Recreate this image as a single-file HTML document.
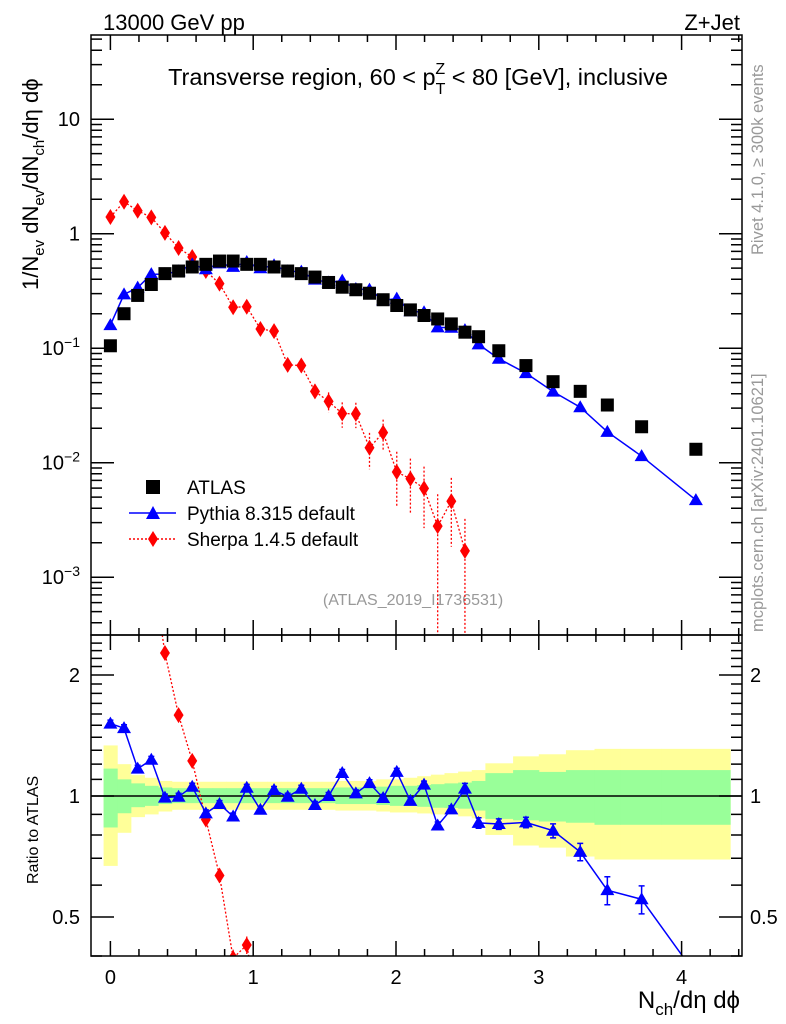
<!DOCTYPE html>
<html><head><meta charset="utf-8">
<style>
html,body{margin:0;padding:0;background:#fff;overflow:hidden;width:786px;height:1024px;}
svg{display:block;font-family:"Liberation Sans",sans-serif;}
</style></head>
<body>
<svg id="chart" width="786" height="1024" viewBox="0 0 786 1024" xmlns="http://www.w3.org/2000/svg">
<text x="103" y="30" font-size="22">13000 GeV pp</text>
<text x="740" y="30" font-size="22" text-anchor="end">Z+Jet</text>
<text x="418" y="85" font-size="23.5" text-anchor="middle">Transverse region, 60 &lt; p<tspan font-size="16" dy="9">T</tspan><tspan font-size="16" dx="-10" dy="-20">Z</tspan><tspan dy="11"> &lt; 80 [GeV], inclusive</tspan></text>
<text transform="translate(38,290) rotate(-90)" font-size="22">1/N<tspan font-size="15" dy="6">ev</tspan><tspan dy="-6"> dN</tspan><tspan font-size="15" dy="6">ev</tspan><tspan dy="-6">/dN</tspan><tspan font-size="15" dy="6">ch</tspan><tspan dy="-6">/dη dϕ</tspan></text>
<text transform="translate(38,884) rotate(-90)" font-size="16">Ratio to ATLAS</text>
<text x="740" y="1008" font-size="24" text-anchor="end">N<tspan font-size="17" dy="7">ch</tspan><tspan dy="-7">/dη dϕ</tspan></text>
<text transform="translate(763,255) rotate(-90)" font-size="16.5" fill="#999">Rivet 4.1.0, ≥ 300k events</text>
<text transform="translate(763,632) rotate(-90)" font-size="16.5" fill="#999">mcplots.cern.ch [arXiv:2401.10621]</text>
<text x="413" y="605" font-size="16" fill="#999" text-anchor="middle">(ATLAS_2019_I1736531)</text>
<g>
<rect x="146" y="480" width="14" height="14" fill="#000"/>
<text x="187" y="494" font-size="19">ATLAS</text>
<line x1="129" y1="513" x2="176" y2="513" stroke="#00f" stroke-width="1.5"/>
<path d="M146,519 L160,519 L153,506 Z" fill="#00f"/>
<text x="187" y="520" font-size="19">Pythia 8.315 default</text>
<line x1="129" y1="539" x2="176" y2="539" stroke="#f00" stroke-width="1.5" stroke-dasharray="2,2"/>
<path d="M153,531 L158,539 L153,547 L148,539 Z" fill="#f00"/>
<text x="187" y="546" font-size="19">Sherpa 1.4.5 default</text>
</g>
</svg>
<script>
const atlasX = [0,1,2,3,4,5,6,7,8,9,10,11,12,13,14,15,16,17,18,19,20,21,22,23,24,25,26,27].map(i=>i/10.472).concat([2.72,2.91,3.10,3.29,3.48,3.72,4.10]);
const atlasY = [0.105,0.2,0.289,0.36,0.448,0.472,0.512,0.54,0.577,0.577,0.54,0.54,0.512,0.472,0.448,0.418,0.375,0.341,0.324,0.302,0.265,0.236,0.216,0.193,0.18,0.163,0.138,0.126,0.095,0.0705,0.051,0.042,0.0319,0.0206,0.0131];
const pythiaY = [0.159,0.295,0.338,0.443,0.444,0.47,0.54,0.489,0.551,0.513,0.566,0.499,0.53,0.47,0.467,0.397,0.375,0.389,0.329,0.325,0.262,0.271,0.21,0.206,0.152,0.151,0.144,0.108,0.0809,0.0606,0.0418,0.0305,0.0186,0.0114,0.00471];
const pythiaErr = [0.02,0.02,0.02,0.02,0.02,0.02,0.02,0.02,0.02,0.02,0.02,0.02,0.02,0.02,0.02,0.02,0.02,0.02,0.02,0.02,0.02,0.02,0.02,0.02,0.02,0.02,0.03,0.03,0.03,0.03,0.04,0.05,0.08,0.08,0.1];
const sherpaY = [1.40,1.90,1.585,1.39,1.016,0.75,0.626,0.472,0.366,0.228,0.23,0.147,0.141,0.0715,0.0706,0.042,0.0343,0.0269,0.0267,0.0135,0.0183,0.0083,0.00724,0.00596,0.00279,0.00461,0.0017];
const sherpaErr = [0.03,0.03,0.03,0.03,0.03,0.03,0.03,0.03,0.04,0.05,0.05,0.06,0.06,0.15,0.15,0.15,0.2,0.25,0.25,0.35,0.3,0.5,0.5,0.55,0.9,0.6,0.9];
const binLo = [0,1,2,3,4,5,6,7,8,9,10,11,12,13,14,15,16,17,18,19,20,21,22,23,24,25,26,27].map(i=>(i-0.5)/10.472).concat([2.626,2.82,3.0,3.19,3.39,3.57,3.86]);
const binHi = [0,1,2,3,4,5,6,7,8,9,10,11,12,13,14,15,16,17,18,19,20,21,22,23,24,25,26,27].map(i=>(i+0.5)/10.472).concat([2.82,3.0,3.19,3.39,3.57,3.86,4.34]);
const yellowHi = [1.336,1.2,1.127,1.11,1.09,1.085,1.085,1.085,1.085,1.085,1.085,1.085,1.085,1.085,1.085,1.085,1.085,1.09,1.09,1.09,1.1,1.1,1.11,1.12,1.13,1.14,1.15,1.16,1.206,1.255,1.27,1.3,1.31,1.31,1.31];
const yellowLo = [0.67,0.81,0.886,0.9,0.915,0.924,0.924,0.924,0.924,0.924,0.924,0.924,0.924,0.924,0.924,0.924,0.924,0.92,0.92,0.92,0.915,0.91,0.91,0.905,0.9,0.9,0.89,0.88,0.8,0.753,0.744,0.707,0.695,0.695,0.695];
const greenHi = [1.17,1.1,1.075,1.06,1.05,1.046,1.046,1.046,1.046,1.046,1.046,1.046,1.046,1.046,1.046,1.046,1.046,1.05,1.05,1.05,1.055,1.06,1.06,1.065,1.07,1.075,1.08,1.09,1.14,1.16,1.148,1.16,1.16,1.16,1.16];
const greenLo = [0.835,0.906,0.938,0.945,0.955,0.96,0.96,0.96,0.96,0.96,0.96,0.96,0.96,0.96,0.96,0.96,0.96,0.955,0.955,0.955,0.95,0.945,0.945,0.94,0.935,0.934,0.93,0.92,0.877,0.87,0.864,0.858,0.848,0.848,0.848];
const xTicks = [0,1,2,3,4];
const mainYTicks = [10,1,0.1,0.01,0.001];
const ratioTicks = [2,1,0.5];

const NS='http://www.w3.org/2000/svg';
const svg=document.getElementById('chart');
const L=91,R=742,T=35,MID=635,B=956;
const X=v=>110.4+v*142.8;
const Ym=v=>233.7-Math.log10(v)*114.5;
const Yr=v=>796-Math.log2(v)*121;
function el(tag,attrs,parent){const e=document.createElementNS(NS,tag);for(const k in attrs)e.setAttribute(k,attrs[k]);(parent||svg).appendChild(e);return e;}

const defs=el('defs',{});
const c1=el('clipPath',{id:'cm'},defs);el('rect',{x:L,y:T,width:R-L,height:MID-T},c1);
const c2=el('clipPath',{id:'cr'},defs);el('rect',{x:L,y:MID,width:R-L,height:B-MID},c2);

const gb=el('g',{'clip-path':'url(#cr)'});


for(let i=0;i<binLo.length;i++){
  const y=el('rect',{x:X(binLo[i]),y:Yr(yellowHi[i]),width:X(binHi[i])-X(binLo[i])+0.5,height:Yr(yellowLo[i])-Yr(yellowHi[i]),fill:'#ffff99'},gb);
  
  
}
for(let i=0;i<binLo.length;i++){
  const g=el('rect',{x:X(binLo[i]),y:Yr(greenHi[i]),width:X(binHi[i])-X(binLo[i])+0.5,height:Yr(greenLo[i])-Yr(greenHi[i]),fill:'#99ff99'},gb);
  
  
}
el('line',{x1:L,x2:R,y1:Yr(1),y2:Yr(1),stroke:'#000','stroke-width':1.5},gb);

const gm=el('g',{'clip-path':'url(#cm)'});
let sp='';
sherpaY.forEach((v,i)=>{sp+=(i?'L':'M')+X(atlasX[i]).toFixed(1)+','+Ym(v).toFixed(1);});
const sl=el('path',{d:sp,fill:'none',stroke:'#f00','stroke-width':1.3,'stroke-dasharray':'2,2'},gm);


sherpaY.forEach((v,i)=>{
  const x=X(atlasX[i]),y=Ym(v);
  const lo=Math.max(v*(1-sherpaErr[i]),1e-5),hi=v*(1+sherpaErr[i]);
  el('line',{x1:x,x2:x,y1:Ym(hi),y2:Ym(lo),stroke:'#f00','stroke-width':1.3,'stroke-dasharray':'2,2'},gm);
  const d=el('path',{d:`M${x},${y-8}L${x+5},${y}L${x},${y+8}L${x-5},${y}Z`,fill:'#f00'},gm);
  
  
});
let pp='';
pythiaY.forEach((v,i)=>{pp+=(i?'L':'M')+X(atlasX[i]).toFixed(1)+','+Ym(v).toFixed(1);});
const pl=el('path',{d:pp,fill:'none',stroke:'#00f','stroke-width':1.5},gm);


pythiaY.forEach((v,i)=>{
  const x=X(atlasX[i]),y=Ym(v);
  const t=el('path',{d:`M${x-7},${y+5}L${x+7},${y+5}L${x},${y-7}Z`,fill:'#00f'},gm);
  
  
});
atlasY.forEach((v,i)=>{
  const x=X(atlasX[i]),y=Ym(v);
  const s=el('rect',{x:x-6.5,y:y-6.5,width:13,height:13,fill:'#000'},gm);
  
  
});

const gr=el('g',{'clip-path':'url(#cr)'});
let sr='';
sherpaY.forEach((v,i)=>{sr+=(i?'L':'M')+X(atlasX[i]).toFixed(1)+','+Yr(v/atlasY[i]).toFixed(1);});
el('path',{d:sr,fill:'none',stroke:'#f00','stroke-width':1.3,'stroke-dasharray':'2,2'},gr);
sherpaY.forEach((v,i)=>{
  const r=v/atlasY[i],x=X(atlasX[i]),y=Yr(r);
  el('line',{x1:x,x2:x,y1:Yr(r*(1+sherpaErr[i])),y2:Yr(Math.max(r*(1-sherpaErr[i]),1e-3)),stroke:'#f00','stroke-width':1.3,'stroke-dasharray':'2,2'},gr);
  const d=el('path',{d:`M${x},${y-8}L${x+5},${y}L${x},${y+8}L${x-5},${y}Z`,fill:'#f00'},gr);
  
  
});
let pr='';
pythiaY.forEach((v,i)=>{pr+=(i?'L':'M')+X(atlasX[i]).toFixed(1)+','+Yr(v/atlasY[i]).toFixed(1);});
el('path',{d:pr,fill:'none',stroke:'#00f','stroke-width':1.5},gr);
pythiaY.forEach((v,i)=>{
  const r=v/atlasY[i],x=X(atlasX[i]),y=Yr(r);
  const e=pythiaErr[i];
  el('path',{d:`M${x},${Yr(r*(1+e))}V${Yr(r*(1-e))}M${x-3},${Yr(r*(1+e))}H${x+3}M${x-3},${Yr(r*(1-e))}H${x+3}`,stroke:'#00f','stroke-width':1.5,fill:'none'},gr);
  const t=el('path',{d:`M${x-7},${y+5}L${x+7},${y+5}L${x},${y-7}Z`,fill:'#00f'},gr);
  
  
});

const ax=el('g',{stroke:'#000','stroke-width':1.5,fill:'none'});


el('rect',{x:L,y:T,width:R-L,height:MID-T},ax);
el('rect',{x:L,y:MID,width:R-L,height:B-MID},ax);
let td='';
for(let k=-1;k<=22;k++){
  const v=k*0.2;const x=X(v);if(x<L||x>R)continue;
  const major=(k%5===0);const len=major?15:7;
  td+=`M${x},${T}v${len}M${x},${MID}v${-len}M${x},${MID}v${len}M${x},${B}v${-len}`;
}
for(let d=-4;d<=1;d++){
  for(let m=1;m<=9;m++){
    const v=m*Math.pow(10,d);const y=Ym(v);if(y<T||y>MID)continue;
    const len=m===1?23:11;
    td+=`M${L},${y}h${len}M${R},${y}h${-len}`;
  }
}
for(let v=0.4;v<=2.5;v+=0.1){
  const y=Yr(v);if(y<MID||y>B)continue;
  const major=[0.5,1,2].some(t=>Math.abs(t-v)<1e-6);const len=major?23:11;
  td+=`M${L},${y}h${len}M${R},${y}h${-len}`;
}
el('path',{d:td},ax);

xTicks.forEach(v=>{
  const t=el('text',{x:X(v),y:984,'font-size':20,'text-anchor':'middle'});
  t.textContent=v;
  
  
});
mainYTicks.forEach(v=>{
  const y=Ym(v)+7;
  const t=el('text',{x:80,y:y,'font-size':20,'text-anchor':'end'});
  
  
  const e=Math.round(Math.log10(v));
  if(e===0||e===1){t.textContent=String(v);}
  else{
    const a=document.createElementNS(NS,'tspan');a.textContent='10';t.appendChild(a);
    const b=document.createElementNS(NS,'tspan');b.setAttribute('font-size','14');b.setAttribute('dy','-8');b.textContent='−'+(-e);t.appendChild(b);
  }
});
ratioTicks.forEach(v=>{
  const y=Yr(v)+7;
  const t1=el('text',{x:80,y:y,'font-size':20,'text-anchor':'end'});
  t1.textContent=v;
  
  
  const t2=el('text',{x:750,y:y,'font-size':20});
  t2.textContent=v;
  
  
});
</script>
</body></html>
